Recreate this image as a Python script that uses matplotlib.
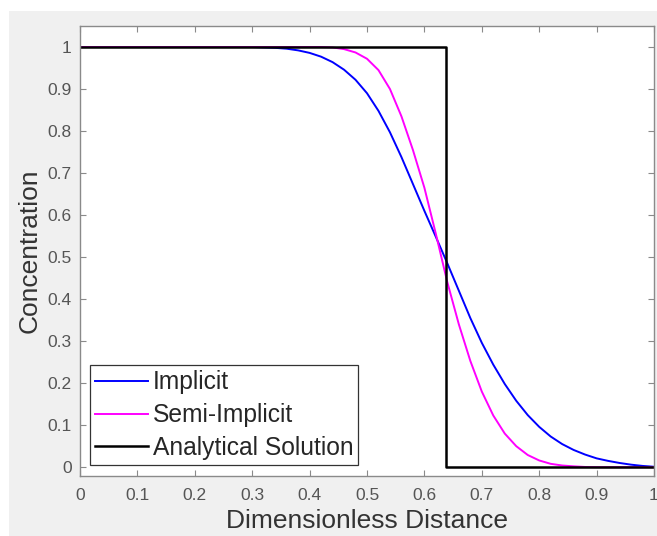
import matplotlib
matplotlib.use('Agg')
import matplotlib.pyplot as plt
from matplotlib.patches import Rectangle

plt.rcParams['font.family'] = ['Liberation Sans', 'DejaVu Sans']

# values
IMPLICIT_X = [0.0, 0.30, 0.32, 0.34, 0.36, 0.38, 0.40, 0.42, 0.44, 0.46, 0.48, 0.50,
              0.52, 0.54, 0.56, 0.58, 0.60, 0.62, 0.64, 0.66, 0.68, 0.70, 0.72, 0.74,
              0.76, 0.78, 0.80, 0.82, 0.84, 0.86, 0.88, 0.90, 0.92, 0.94, 0.96, 0.98, 1.0]
IMPLICIT_Y = [1.0, 1.0, 0.999, 0.998, 0.996, 0.992, 0.986, 0.977, 0.964, 0.946, 0.922, 0.89,
              0.848, 0.797, 0.738, 0.674, 0.61, 0.548, 0.485, 0.42, 0.355, 0.296, 0.244, 0.198,
              0.158, 0.124, 0.096, 0.073, 0.055, 0.041, 0.030, 0.021, 0.015, 0.010, 0.006, 0.003, 0.001]

SEMI_X = [0.0, 0.42, 0.44, 0.46, 0.48, 0.50, 0.52, 0.54, 0.56, 0.58, 0.60, 0.62, 0.64,
          0.66, 0.68, 0.70, 0.72, 0.74, 0.76, 0.78, 0.80, 0.82, 0.84, 0.86, 0.88, 0.90, 1.0]
SEMI_Y = [1.0, 1.0, 0.999, 0.995, 0.987, 0.972, 0.945, 0.90, 0.835, 0.755, 0.665, 0.555, 0.44,
          0.34, 0.253, 0.18, 0.123, 0.08, 0.05, 0.029, 0.016, 0.008, 0.004, 0.002, 0.0005, 0.0, 0.0]

ANALYTIC_X = [0.0, 0.638, 0.638, 1.0]
ANALYTIC_Y = [1.0, 1.0, 0.0, 0.0]

TICKS = [0, 0.1, 0.2, 0.3, 0.4, 0.5, 0.6, 0.7, 0.8, 0.9, 1]
TICK_LABELS = ['0', '0.1', '0.2', '0.3', '0.4', '0.5', '0.6', '0.7', '0.8', '0.9', '1']

W, H = 657, 536
fig = plt.figure(figsize=(W / 100, H / 100), dpi=100, facecolor='white')
# matlab grey window area
fig.patches.append(Rectangle((9 / W, 0), 1, 1 - 11 / H, transform=fig.transFigure,
                             facecolor='#f0f0f0', edgecolor='none', zorder=-10))

ax = fig.add_axes([80 / W, 1 - 476 / H, 574 / W, 450 / H])
ax.set_facecolor('white')

ax.plot(IMPLICIT_X, IMPLICIT_Y, color='#0000ff', lw=1.4, label='Implicit')
ax.plot(SEMI_X, SEMI_Y, color='#ff00ff', lw=1.4, label='Semi-Implicit')
ax.plot(ANALYTIC_X, ANALYTIC_Y, color='black', lw=1.8, label='Analytical Solution')

ax.set_xlim(0, 1)
ax.set_ylim(-0.021, 1.05)
ax.set_xticks(TICKS)
ax.set_xticklabels(TICK_LABELS)
ax.set_yticks(TICKS)
ax.set_yticklabels(TICK_LABELS)

for s in ax.spines.values():
    s.set_color('#8a8a8a')
    s.set_linewidth(1.0)

ax.tick_params(direction='in', length=4, width=0.8, color='#8a8a8a',
               top=True, right=True, labelsize=12.5, labelcolor='#555555')
ax.tick_params(axis='x', pad=9)
ax.tick_params(axis='y', pad=6)

ax.set_xlabel('Dimensionless Distance', fontsize=19, color='#333333', labelpad=4)
ax.set_ylabel('Concentration', fontsize=19, color='#333333', labelpad=4)

leg = ax.legend(loc='lower left', bbox_to_anchor=(10 / 574, 11 / 450), borderaxespad=0,
                fontsize=17.7, handlelength=2.15, handletextpad=0.2, borderpad=0.2,
                labelspacing=0.36, fancybox=False, framealpha=1, edgecolor='#333333')
leg.get_frame().set_linewidth(0.9)
for t in leg.get_texts():
    t.set_color('#262626')

fig.savefig('out.png', dpi=100, facecolor=fig.get_facecolor())
